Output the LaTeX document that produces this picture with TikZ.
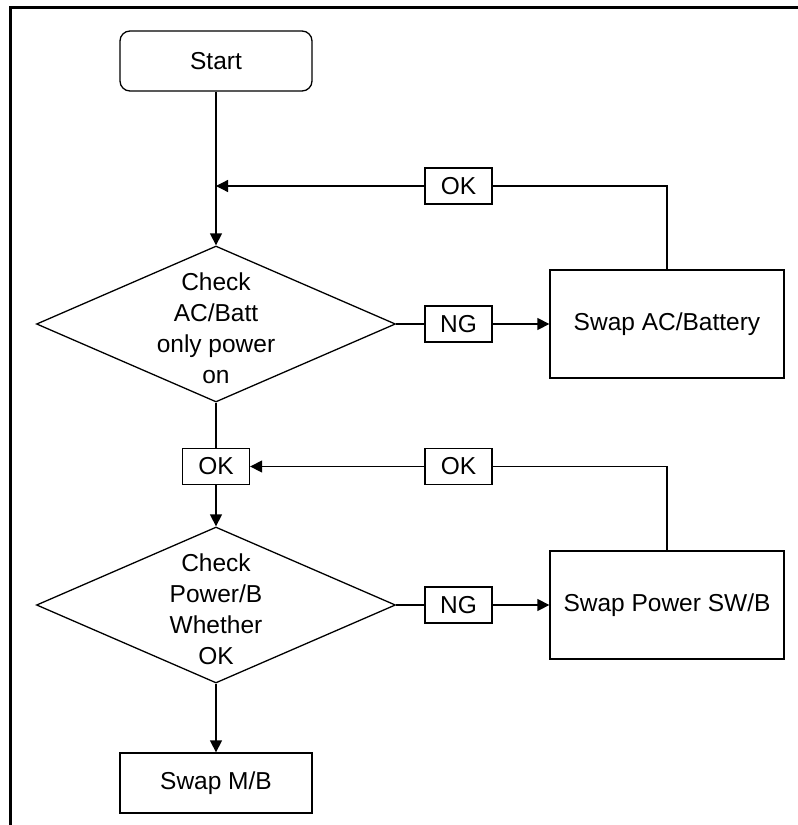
\documentclass[tikz,border=0pt]{standalone}
\usepackage{fontspec}
\setmainfont{Liberation Sans}
\usetikzlibrary{shapes.geometric,arrows.meta}
\begin{document}
\begin{tikzpicture}[x=1pt,y=-1pt,
  every node/.style={font=\fontsize{24.5}{31}\selectfont},
  conn/.style={line width=1.3pt},
  arr/.style={conn,-{Triangle[length=12pt,width=12pt]}},
  term/.style={draw,line width=1.3pt,rounded corners=10pt,minimum width=192pt,minimum height=60pt,inner sep=0pt},
  procbox/.style={draw,line width=1.3pt,minimum width=192pt,minimum height=60pt,inner sep=0pt},
  bigbox/.style={draw,line width=1.3pt,minimum width=234pt,minimum height=108pt,inner sep=0pt},
  tagbox/.style={draw,line width=1.3pt,minimum width=67pt,minimum height=36pt,inner sep=0pt},
  decide/.style={draw,line width=1.3pt,shape=diamond,minimum width=359pt,minimum height=156pt,inner sep=0pt}
]
\useasboundingbox (0,0) rectangle (798,825);
% frame
\draw[line width=3pt,line join=miter] (10.5,825) -- (10.5,7.5) -- (798,7.5);

\node[term] (start) at (216,61) {Start};
\node[decide,label={[align=center,yshift=-4pt]center:Check\\AC/Batt\\only power\\on}] (d1) at (216,324) {};
\node[tagbox] (ok1) at (458.5,186) {OK};
\node[tagbox] (ng1) at (458.5,324) {NG};
\node[bigbox] (sw1) at (667,324) {Swap AC/Battery};
\coordinate (j1) at (216,186);

\node[tagbox] (ok2) at (216,466.5) {OK};
\node[tagbox] (ok3) at (458.5,466.5) {OK};
\node[decide,label={[align=center,yshift=-4pt]center:Check\\Power/B\\Whether\\OK}] (d2) at (216,605) {};
\node[tagbox] (ng2) at (458.5,605) {NG};
\node[bigbox] (sw2) at (667,605) {Swap Power SW/B};
\node[procbox] (mb) at (216,783) {Swap M/B};

% connectors
\draw[arr] (start.south) -- (d1.north);
\draw[conn] (sw1.north) |- (ok1.east);
\draw[arr] (ok1.west) -- (j1);
\draw[conn] (d1.east) -- (ng1.west);
\draw[arr] (ng1.east) -- (sw1.west);
\draw[conn] (d1.south) -- (ok2.north);
\draw[arr] (ok2.south) -- (d2.north);
\draw[conn] (sw2.north) |- (ok3.east);
\draw[arr] (ok3.west) -- (ok2.east);
\draw[conn] (d2.east) -- (ng2.west);
\draw[arr] (ng2.east) -- (sw2.west);
\draw[arr] (d2.south) -- (mb.north);
\end{tikzpicture}
\end{document}
